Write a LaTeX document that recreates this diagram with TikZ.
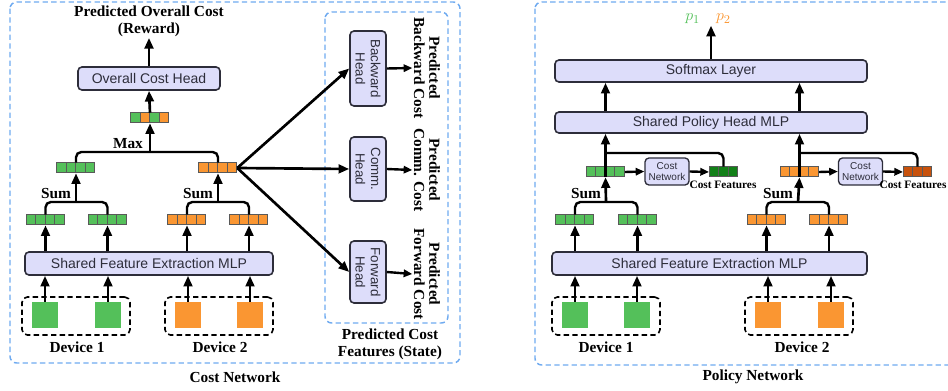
\documentclass[tikz,border=0pt]{standalone}
\usepackage{fontspec}
\setmainfont{Liberation Serif}
\setsansfont{Liberation Sans}
\usetikzlibrary{arrows.meta, calc}

\definecolor{cellgreen}{RGB}{84,192,90}
\definecolor{cellorange}{RGB}{250,150,50}
\definecolor{featgreen}{RGB}{18,128,24}
\definecolor{featorange}{RGB}{200,82,12}
\definecolor{boxfill}{RGB}{221,221,250}
\definecolor{boxline}{RGB}{45,45,58}
\definecolor{groupblue}{RGB}{110,170,240}

% row of feature cells: name, centre, number of cells, cell colours
\newcommand{\featrow}[4]{%
  \node[inner sep=0pt, minimum width=#3*7.125pt, minimum height=7.5pt] (#1) at #2 {};
  \foreach \c [count=\i] in {#4}
    \draw[cellframe, fill=\c] ($(#1.north west)+(\i*9.5-9.5,0)$) rectangle ++(9.5,10);
}

\begin{document}
\begin{tikzpicture}[x=0.75pt, y=-0.75pt,
  box/.style={draw=boxline, fill=boxfill, line width=1.2pt, rounded corners=3pt, inner sep=0pt,
    text=boxline, font=\sffamily\fontsize{10.5}{12}\selectfont},
  headbox/.style={box, rotate=-90, align=center, minimum height=27pt,
    font=\sffamily\fontsize{10}{11.5}\selectfont},
  smallbox/.style={box, align=center, minimum width=33pt, minimum height=20.25pt, line width=1pt,
    font=\sffamily\fontsize{7.5}{8.5}\selectfont},
  group/.style={draw=groupblue, dash pattern=on 4pt off 2.5pt, line width=1.1pt, rounded corners=5pt},
  device/.style={draw, dash pattern=on 4pt off 2.5pt, line width=1.2pt, rounded corners=4pt,
    minimum width=81pt, minimum height=28.5pt, inner sep=0pt},
  square/.style={minimum size=19.5pt, inner sep=0pt},
  lbl/.style={font=\bfseries\fontsize{11.5}{12.5}\selectfont, align=center, inner sep=1pt},
  side lbl/.style={lbl, rotate=-90, font=\bfseries\fontsize{11.5}{11.5}\selectfont},
  tiny lbl/.style={font=\bfseries\fontsize{8.5}{9}\selectfont, inner sep=0pt},
  cellframe/.style={draw=black!65, line width=0.6pt},
  arr/.style={line width=2pt, -{Triangle[length=8pt, width=6.5pt]}},
  arr small/.style={line width=1.8pt, -{Triangle[length=6.5pt, width=5.5pt]}},
  link/.style={line width=1.8pt, rounded corners=4pt},
]
\useasboundingbox (0,0) rectangle (948,391);
\clip (0,0) rectangle (948,391);

% ---------------- Cost network ----------------
\draw[group] (10,2) rectangle (460,363);
\node[lbl] (costtitle) at (235,377) {Cost Network};
\draw[group] (325,12) rectangle (448,323);
\node[lbl] (statelbl) at (390,344) {Predicted Cost\\Features (State)};

% devices
\node[device] (cd1) at (76,316) {};
\node[device] (cd2) at (219,316) {};
\node[square, fill=cellgreen] (cs1) at (45,315) {};
\node[square, fill=cellgreen] (cs2) at (108,315) {};
\node[square, fill=cellorange] (cs3) at (188,315) {};
\node[square, fill=cellorange] (cs4) at (250,315) {};
\node[lbl] (cdl1) at (77,347) {Device 1};
\node[lbl] (cdl2) at (220,347) {Device 2};

\node[box, minimum width=186pt, minimum height=17.25pt] (cmlp) at (149,263.5) {Shared Feature Extraction MLP};
\foreach \s in {cs1,cs2,cs3,cs4}
  \draw[arr] (\s.north) -- (\s.north |- cmlp.south);

% per-task features
\featrow{cg1}{(45.5,220)}{4}{cellgreen,cellgreen,cellgreen,cellgreen}
\featrow{cg2}{(107.5,220)}{4}{cellgreen,cellgreen,cellgreen,cellgreen}
\featrow{co1}{(187,220)}{4}{cellorange,cellorange,cellorange,cellorange}
\featrow{co2}{(249,220)}{4}{cellorange,cellorange,cellorange,cellorange}
\foreach \v in {cg1,cg2,co1,co2}
  \draw[arr] (\v.south |- cmlp.north) -- (\v.south);

% sum per device
\featrow{cgs}{(76,168)}{4}{cellgreen,cellgreen,cellgreen,cellgreen}
\featrow{cos}{(218,168)}{4}{cellorange,cellorange,cellorange,cellorange}
\coordinate (csum1) at (76,202);
\coordinate (csum2) at (218,202);
\draw[link] (cg1.north) |- (csum1) -| (cg2.north);
\draw[link] (co1.north) |- (csum2) -| (co2.north);
\draw[arr] (csum1) -- (cgs.south);
\draw[arr] (csum2) -- (cos.south);
\node[lbl] (csuml1) at (56,194) {Sum};
\node[lbl] (csuml2) at (198,194) {Sum};

% max over devices
\featrow{cmax}{(150,118)}{4}{cellgreen,cellorange,cellgreen,cellorange}
\coordinate (cmaxc) at (150,152);
\draw[link] (cgs.north) |- (cmaxc) -| (cos.north);
\draw[arr] (cmaxc) -- (cmax.south);
\node[lbl] (cmaxl) at (128,144) {Max};

\node[box, minimum width=106.5pt, minimum height=17.25pt] (och) at (149,78.5) {Overall Cost Head};
\draw[arr] (cmax.north) -- (och.south);
\node[lbl] (reward) at (149,21) {Predicted Overall Cost\\(Reward)};
\draw[arr] (och.north) -- (reward.south);

% cost feature heads
\node[headbox, minimum width=56.25pt] (bh) at (368,68.5) {Backward\\Head};
\node[headbox, minimum width=48pt] (ch) at (368,169) {Comm.\\Head};
\node[headbox, minimum width=46.5pt] (fh) at (368,272) {Forward\\Head};
\draw[arr] (cos.east) -- (bh.south);
\draw[arr] (cos.east) -- (ch.south);
\draw[arr] (cos.east) -- (fh.south);
\node[side lbl] (bl) at (427,68) {Predicted\\Backward Cost};
\node[side lbl] (cl) at (427,170) {Predicted\\Comm. Cost};
\node[side lbl] (fl) at (427,274) {Predicted\\Forward Cost};
\draw[arr small] (bh.north) -- (bl.south);
\draw[arr small] (ch.north) -- (cl.south);
\draw[arr small] (fh.north) -- (fl.south);

% ---------------- Policy network ----------------
\draw[group] (535,2) rectangle (970,365);
\node[lbl] (poltitle) at (753,377) {Policy Network};

\node[device] (pd1) at (606,316) {};
\node[device] (pd2) at (799,316) {};
\node[square, fill=cellgreen] (ps1) at (575,315) {};
\node[square, fill=cellgreen] (ps2) at (637,315) {};
\node[square, fill=cellorange] (ps3) at (768,315) {};
\node[square, fill=cellorange] (ps4) at (831,315) {};
\node[lbl] (pdl1) at (606,347) {Device 1};
\node[lbl] (pdl2) at (802,347) {Device 2};

\node[box, minimum width=236.25pt, minimum height=17.25pt] (pmlp) at (709.5,263.5) {Shared Feature Extraction MLP};
\foreach \s in {ps1,ps2,ps3,ps4}
  \draw[arr] (\s.north) -- (\s.north |- pmlp.south);

\featrow{pg1}{(575,220)}{4}{cellgreen,cellgreen,cellgreen,cellgreen}
\featrow{pg2}{(637.5,220)}{4}{cellgreen,cellgreen,cellgreen,cellgreen}
\featrow{po1}{(766.5,220)}{4}{cellorange,cellorange,cellorange,cellorange}
\featrow{po2}{(829,220)}{4}{cellorange,cellorange,cellorange,cellorange}
\foreach \v in {pg1,pg2,po1,po2}
  \draw[arr] (\v.south |- pmlp.north) -- (\v.south);

\featrow{pgs}{(605.5,172)}{4}{cellgreen,cellgreen,cellgreen,cellgreen}
\featrow{pos}{(799.5,172)}{4}{cellorange,cellorange,cellorange,cellorange}
\coordinate (psum1) at (606,202);
\coordinate (psum2) at (798,202);
\draw[link] (pg1.north) |- (psum1) -| (pg2.north);
\draw[link] (po1.north) |- (psum2) -| (po2.north);
\draw[arr] (psum1) -- (pgs.south);
\draw[arr] (psum2) -- (pos.south);
\node[lbl] (psuml1) at (586,194) {Sum};
\node[lbl] (psuml2) at (778,194) {Sum};

% cost network applied to each device
\node[smallbox] (cn1) at (667,171.5) {Cost\\Network};
\node[smallbox] (cn2) at (860.5,171.5) {Cost\\Network};
\featrow{cf1}{(723.5,172)}{3}{featgreen,featgreen,featgreen}
\featrow{cf2}{(917.5,172)}{3}{featorange,featorange,featorange}
\draw[arr small] (pgs.east) -- (cn1.west);
\draw[arr small] (cn1.east) -- (cf1.west);
\draw[arr small] (pos.east) -- (cn2.west);
\draw[arr small] (cn2.east) -- (cf2.west);
\node[tiny lbl] (cfl1) at (723,185) {Cost Features};
\node[tiny lbl] (cfl2) at (913,185) {Cost Features};

\node[box, minimum width=234pt, minimum height=15.75pt] (ph) at (711,122.5) {Shared Policy Head MLP};
\node[box, minimum width=234pt, minimum height=16.5pt] (sm) at (711,71) {Softmax Layer};

\coordinate (ptap1) at (606,153);
\coordinate (ptap2) at (799,153);
\draw[link] (cf1.north) |- (ptap1);
\draw[link] (cf2.north) |- (ptap2);
\draw[arr] (pgs.south) -- (pgs.south |- ph.south);
\draw[arr] (pos.south) -- (pos.south |- ph.south);
\draw[arr] (pgs.south |- ph.north) -- (pgs.south |- sm.south);
\draw[arr] (pos.south |- ph.north) -- (pos.south |- sm.south);

\node[font=\fontsize{13}{14}\selectfont, inner sep=1pt] (probs) at (708,19)
  {\textcolor{cellgreen}{$p_1$}\hspace{12pt}\textcolor{cellorange}{$p_2$}};
\draw[arr] (sm.north) -- (sm.north |- probs.south);
\end{tikzpicture}
\end{document}
